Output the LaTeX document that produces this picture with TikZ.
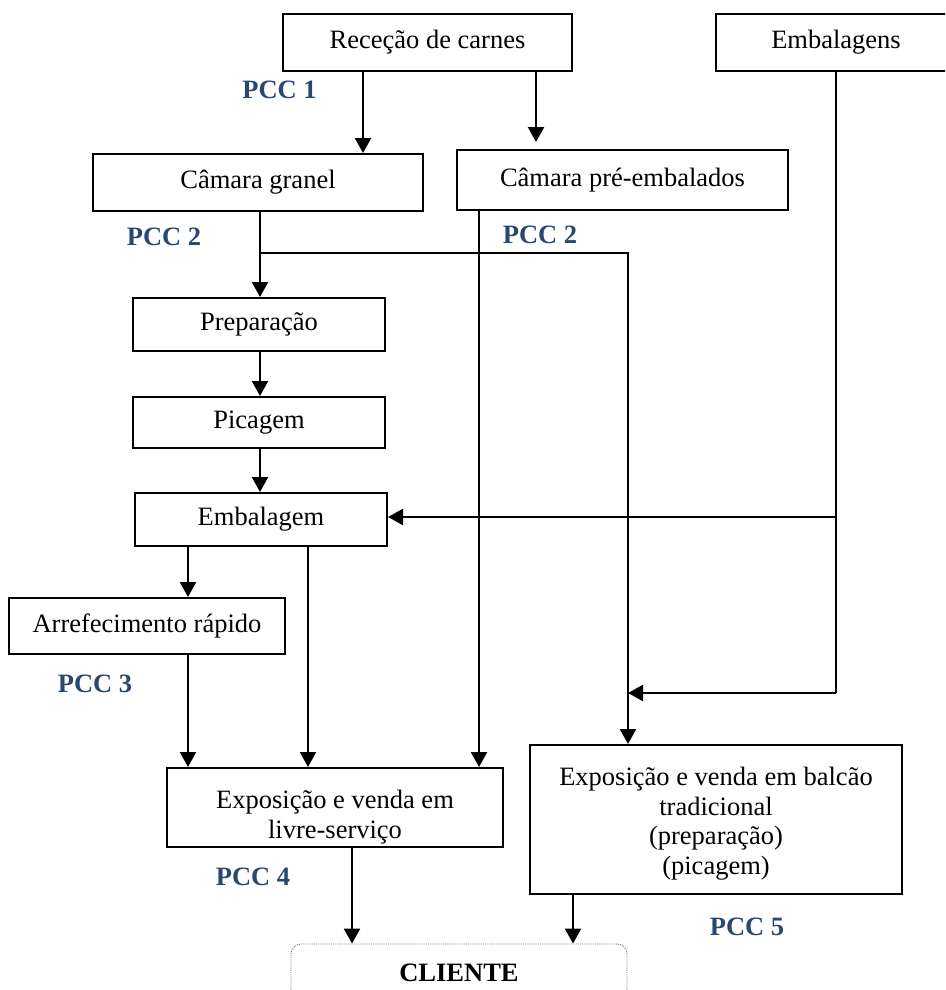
\documentclass[tikz,border=0pt]{standalone}
\usepackage{fontspec}
\setmainfont{Liberation Serif}
\usetikzlibrary{arrows.meta}
\definecolor{pccblue}{RGB}{42,72,110}
\begin{document}
\begin{tikzpicture}[x=1pt,y=-1pt,
  font=\fontsize{26.5}{29.5}\selectfont,
  box/.style={draw, line width=2pt, inner sep=0pt, align=center},
  flow/.style={line width=2.3pt, -{Triangle[length=15pt,width=16pt]}},
  wire/.style={line width=2.3pt},
  pcclabel/.style={text=pccblue, font=\fontsize{26.5}{29.5}\selectfont\bfseries, inner sep=0pt},
  txt/.style={align=center, inner sep=0pt}]
\useasboundingbox (0,0) rectangle (945,990);
\clip (0,0) rectangle (945,990);

% process steps
\node[box, minimum width=289pt, minimum height=57pt] (rec) at (427.5,42.5) {Receção de carnes};
\node[box, minimum width=240pt, minimum height=57pt] (emb) at (836,42.5) {Embalagens};
\node[box, minimum width=330pt, minimum height=57pt] (cg) at (258,182.5) {Câmara granel};
\node[box, minimum width=331pt, minimum height=60pt] (cpe) at (622.5,180) {Câmara pré-embalados};
\node[box, minimum width=252pt, minimum height=53pt] (prep) at (259,324.5) {Preparação};
\node[box, minimum width=252pt, minimum height=51pt] (pic) at (259,422.5) {Picagem};
\node[box, minimum width=252pt, minimum height=53pt] (embm) at (261,519.5) {Embalagem};
\node[box, minimum width=276pt, minimum height=56pt] (arr) at (147,626) {Arrefecimento rápido};
\node[box, minimum width=336pt, minimum height=79pt] (livre) at (335,807.5) {};
\node[txt] (livret) at (335,817) {Exposição e venda em\\livre-serviço};
\node[box, minimum width=372pt, minimum height=149pt] (bal) at (716,819.5) {};
\node[txt] (balt) at (716,823.5) {Exposição e venda em balcão\\tradicional\\(preparação)\\(picagem)};
\node[draw=black!55, densely dotted, line width=0.9pt, rounded corners=10pt,
      minimum width=336pt, minimum height=90pt, inner sep=0pt] (cli) at (459,989) {};
\node[txt, font=\fontsize{26.5}{29.5}\selectfont\bfseries] (clit) at (459,973) {CLIENTE};

% critical control points
\node[pcclabel] (p1) at (279.5,90) {PCC 1};
\node[pcclabel] (p2a) at (164,237) {PCC 2};
\node[pcclabel] (p2b) at (540,235) {PCC 2};
\node[pcclabel] (p3) at (95,684) {PCC 3};
\node[pcclabel] (p4) at (253,877) {PCC 4};
\node[pcclabel] (p5) at (747,927) {PCC 5};

% connector columns and rows
\coordinate (xa) at (363,0);
\coordinate (xb) at (536,0);
\coordinate (xc) at (260,0);
\coordinate (xd) at (479,0);
\coordinate (xe) at (628,0);
\coordinate (xf) at (836,0);
\coordinate (xg) at (188,0);
\coordinate (xh) at (308,0);
\coordinate (xi) at (352,0);
\coordinate (xj) at (573,0);
\coordinate (ya) at (0,253);
\coordinate (yb) at (0,517);
\coordinate (yc) at (0,693);

% flows
\draw[flow] (rec.south -| xa) -- (cg.north -| xa);
\draw[flow, shorten >=7pt] (rec.south -| xb) -- (cpe.north -| xb);
\draw[flow] (cg.south -| xc) -- (prep.north -| xc);
\draw[flow] (xc |- ya) -| (bal.north -| xe);
\draw[flow] (cpe.south -| xd) -- (livre.north -| xd);
\draw[flow] (prep.south -| xc) -- (pic.north -| xc);
\draw[flow] (pic.south -| xc) -- (embm.north -| xc);
\draw[wire] (emb.south -| xf) -- (xf |- yc);
\draw[flow] (xf |- yc) -- (xe |- yc);
\draw[flow] (xf |- yb) -- (embm.east |- yb);
\draw[flow] (embm.south -| xg) -- (arr.north -| xg);
\draw[flow] (embm.south -| xh) -- (livre.north -| xh);
\draw[flow] (arr.south -| xg) -- (livre.north -| xg);
\draw[flow] (livre.south -| xi) -- (cli.north -| xi);
\draw[flow] (bal.south -| xj) -- (cli.north -| xj);
\end{tikzpicture}
\end{document}
